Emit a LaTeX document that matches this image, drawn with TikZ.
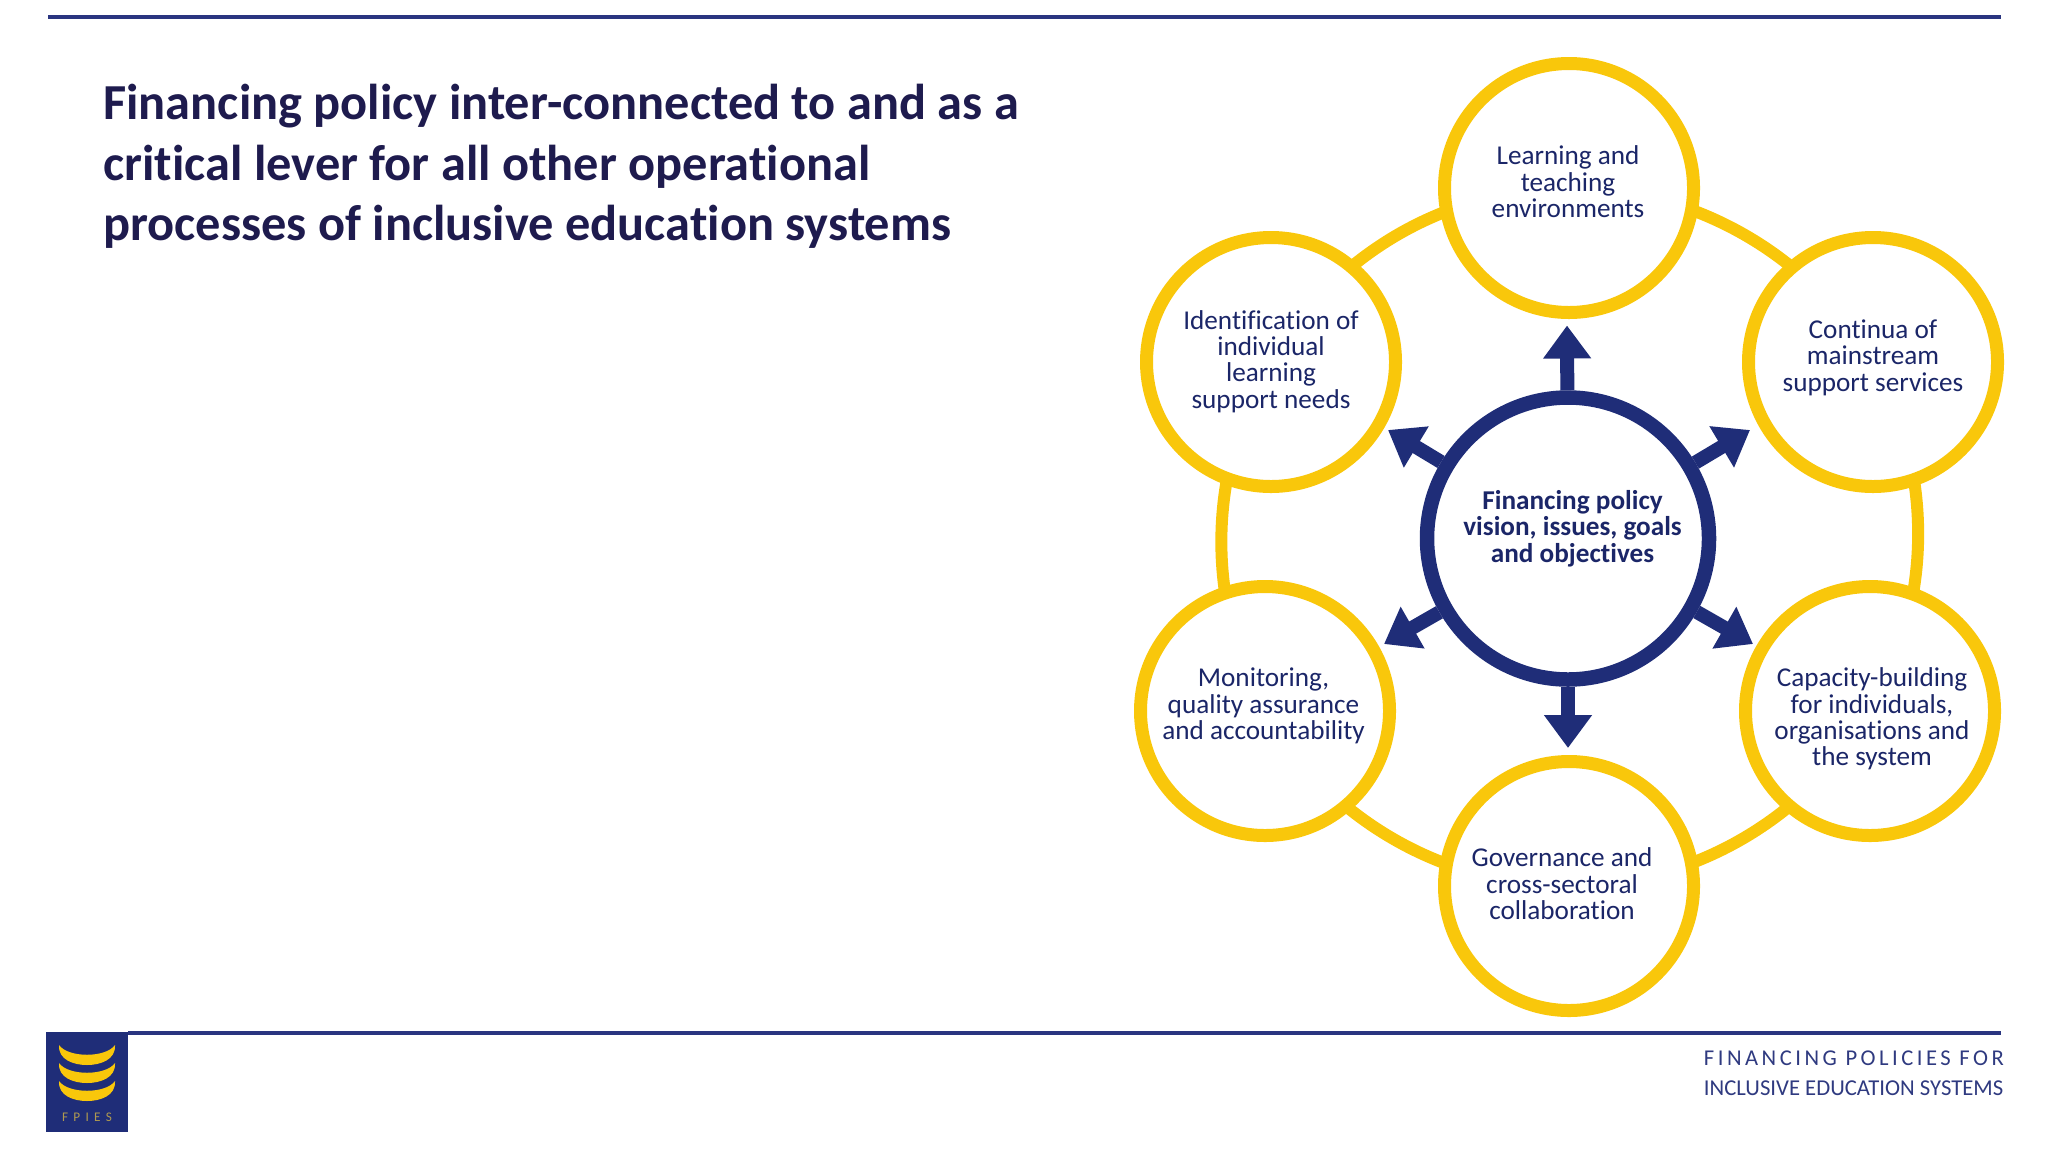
\documentclass[tikz,border=0pt]{standalone}
\usepackage{fontspec}
\setmainfont[Ligatures=NoCommon]{Carlito}
\newfontfamily\spaced[LetterSpace=15.5,Ligatures=NoCommon]{Carlito}
\newfontfamily\logofont[LetterSpace=40]{Carlito}
\usetikzlibrary{arrows.meta,backgrounds}
\definecolor{ringyellow}{HTML}{F9C70B}
\definecolor{navy}{HTML}{1F2D78}
\definecolor{rule}{HTML}{2A3580}
\definecolor{titlec}{HTML}{1E1B4E}
\definecolor{labelc}{HTML}{1B2668}
\definecolor{footc}{HTML}{2F3A80}
\definecolor{logotext}{HTML}{B09A50}
\tikzset{
  outercircle/.style={circle,draw=ringyellow,line width=6.5pt,fill=white,minimum size=124.5pt,inner sep=0pt},
  centrecircle/.style={circle,draw=navy,line width=7.25pt,fill=white,minimum size=141pt,inner sep=0pt},
  ringlink/.style={draw=ringyellow,line width=6pt},
  spoke/.style={draw=navy,line width=7pt,-{Triangle[length=16.5pt,width=23pt]}},
  label/.style={align=center,text=labelc,font=\fontsize{13.6}{13.2}\selectfont},
  rulebar/.style={draw=rule,line width=1.8pt},
  crescent/.style={fill=ringyellow,draw=none}
}
\begin{document}
\begin{tikzpicture}[x=0.5pt,y=-0.5pt]
\useasboundingbox (0,0) rectangle (2048,1152);
\coordinate (tl) at (48,17); \coordinate (tr) at (2001,17);
\coordinate (bl) at (128,1033); \coordinate (br) at (2001,1033);
\draw[rulebar] (tl) -- (tr);
\draw[rulebar] (bl) -- (br);
\node[anchor=north west,align=left,text=titlec,font=\fontsize{25.2}{30.2}\bfseries\selectfont,inner sep=0pt] (title) at (103,84)
 {Financing policy inter-connected to and as a\\critical lever for all other operational\\processes of inclusive education systems};
% circles
\node[centrecircle] (c) at (1568,538.5) {};
\node[outercircle] (n1) at (1569,188) {};
\node[outercircle] (n2) at (1873,362) {};
\node[outercircle] (n3) at (1870,711) {};
\node[outercircle] (n4) at (1569,886) {};
\node[outercircle] (n5) at (1265,711) {};
\node[outercircle] (n6) at (1271,362) {};
\begin{scope}[on background layer]
\foreach \a/\b in {n1/n2,n2/n3,n3/n4,n4/n5,n5/n6,n6/n1}
  \path[ringlink] (\a.center) to[bend left=30,looseness=0.91] (\b.center);
\end{scope}
% labels
\node[label] (t1) at (1568,182) {Learning and\\teaching\\environments};
\node[label] (t2) at (1873,357.5) {Continua of\\mainstream\\support services};
\node[label] (t3) at (1872,719) {Capacity-building\\for individuals,\\organisations and\\the system};
\node[label] (t4) at (1562,884) {Governance and\\cross-sectoral\\collaboration};
\node[label] (t5) at (1263.5,706) {Monitoring,\\quality assurance\\and accountability};
\node[label] (t6) at (1271,361.5) {Identification of\\individual\\learning\\support needs};
\node[label,font=\fontsize{13.6}{13.2}\bfseries\selectfont] (t0) at (1572.5,528.5) {Financing policy\\vision, issues, goals\\and objectives};
% arrows
\coordinate (a1) at (1567,325.5);
\coordinate (a2) at (1750,430);
\coordinate (a3) at (1753,644);
\coordinate (a4) at (1568,748);
\coordinate (a5) at (1384,644);
\coordinate (a6) at (1388,430);
\foreach \p in {a1,a2,a3,a4,a5,a6}
  \draw[spoke] (c) -- (\p);
% footer
\node[anchor=west,inner sep=0pt,text=footc,font=\fontsize{11.3}{12}\spaced] (f1) at (1703.5,1058) {FINANCING POLICIES FOR};
\node[anchor=west,inner sep=0pt,text=footc,font=\fontsize{11.35}{12}\selectfont] (f2) at (1703.5,1088) {INCLUSIVE EDUCATION SYSTEMS};
% logo
\node[anchor=north west,fill=navy,minimum width=41pt,minimum height=50pt,inner sep=0pt] (logo) at (46,1032) {};
\foreach \dy in {0,18,36}
  \fill[crescent] (59,1045+\dy) .. controls (68,1058+\dy) and (106,1058+\dy) .. (115,1045+\dy)
     .. controls (116,1060+\dy) and (100,1065+\dy) .. (87,1065+\dy)
     .. controls (74,1065+\dy) and (58,1060+\dy) .. (59,1045+\dy) -- cycle;
\node[text=logotext,font=\fontsize{6.6}{7}\logofont,inner sep=0pt] (lt) at (87,1117) {FPIES};
\end{tikzpicture}
\end{document}
